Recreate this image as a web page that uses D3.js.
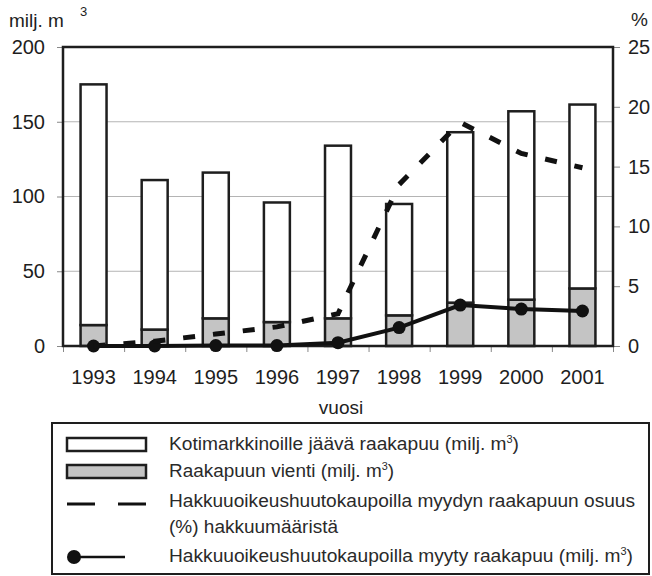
<!DOCTYPE html>
<html>
<head>
<meta charset="utf-8">
<script src="https://cdn.jsdelivr.net/npm/d3@7"></script>
<style>
  body { margin: 0; background: #fff; }
  svg { display: block; font-family: "Liberation Sans", Arial, sans-serif; }
</style>
</head>
<body>
<svg id="chart" width="652" height="576"></svg>
<script>
// data
const years = ["1993", "1994", "1995", "1996", "1997", "1998", "1999", "2000", "2001"];
const domestic = [161, 100, 97.5, 80, 115.5, 74.5, 114, 126, 123];     // milj. m3
const exported = [14, 11, 18.5, 16, 18.5, 20.5, 29, 31, 38.5];         // milj. m3
const soldShare = [0, 0.4, 1.0, 1.6, 2.7, 13.5, 18.7, 16.1, 14.9];     // %
const soldVolume = [0, 0, 0.3, 0.3, 2.2, 12.3, 27.4, 24.7, 23.4];      // milj. m3
const leftTicks = [0, 50, 100, 150, 200];
const rightTicks = [0, 5, 10, 15, 20, 25];
const legendLabels = [
    ["Kotimarkkinoille jäävä raakapuu (milj. m", "3", ")"],
    ["Raakapuun vienti (milj. m", "3", ")"],
    ["Hakkuuoikeushuutokaupoilla myydyn raakapuun osuus"],
    ["(%) hakkuumääristä"],
    ["Hakkuuoikeushuutokaupoilla myyty raakapuu (milj. m", "3", ")"]
];

const ink = "#1e1e1e";
const grey = "#c4c4c4";

const plot = { left: 63, right: 613, top: 47, bottom: 346 };

const svg = d3.select("#chart");

const x = d3.scaleBand()
    .domain(years)
    .range([plot.left, plot.right])
    .paddingInner(0.575)
    .paddingOuter(0.2875);

const xEdge = d3.scaleLinear().domain([0, years.length]).range([plot.left, plot.right]);

const y = d3.scaleLinear().domain([0, 200]).range([plot.bottom, plot.top]);
const yPct = d3.scaleLinear().domain([0, 25]).range([plot.bottom, plot.top]);

// gridlines
svg.append("g")
    .selectAll("line")
    .data(leftTicks.filter(d => d > 0 && d < 200))
    .enter()
    .append("line")
    .attr("x1", plot.left)
    .attr("x2", plot.right)
    .attr("y1", d => y(d))
    .attr("y2", d => y(d))
    .attr("stroke", "#b4b4b4")
    .attr("stroke-width", 1);

// axes
const leftAxis = svg.append("g")
    .attr("transform", `translate(${plot.left},0)`)
    .call(d3.axisLeft(y).tickValues(leftTicks).tickSize(6).tickPadding(12));

const rightAxis = svg.append("g")
    .attr("transform", `translate(${plot.right},0)`)
    .call(d3.axisRight(yPct).tickValues(rightTicks).tickSize(7).tickPadding(8));

const edgeAxis = svg.append("g")
    .attr("transform", `translate(0,${plot.bottom})`)
    .call(d3.axisBottom(xEdge).ticks(years.length).tickSize(6).tickFormat(""));

const yearAxis = svg.append("g")
    .attr("transform", `translate(0,${plot.bottom})`)
    .call(d3.axisBottom(x).tickSize(0).tickPadding(24));

[leftAxis, rightAxis, edgeAxis, yearAxis].forEach(a => {
    a.select(".domain").remove();
    a.selectAll("line").attr("stroke", "#888").attr("stroke-width", 1);
    a.selectAll("text")
        .attr("fill", ink)
        .style("font-size", "20px");
});

// stacked bars: export at bottom, domestic on top
const stack = years.map((yr, i) => ({ year: yr, exp: exported[i], dom: domestic[i] }));

const bars = svg.append("g");

bars.selectAll("rect.exp")
    .data(stack)
    .enter()
    .append("rect")
    .attr("class", "exp")
    .attr("x", d => x(d.year))
    .attr("width", x.bandwidth())
    .attr("y", d => y(d.exp))
    .attr("height", d => y(0) - y(d.exp))
    .attr("fill", grey)
    .attr("stroke", ink)
    .attr("stroke-width", 2.5);

bars.selectAll("rect.dom")
    .data(stack)
    .enter()
    .append("rect")
    .attr("class", "dom")
    .attr("x", d => x(d.year))
    .attr("width", x.bandwidth())
    .attr("y", d => y(d.exp + d.dom))
    .attr("height", d => y(d.exp) - y(d.exp + d.dom))
    .attr("fill", "#fff")
    .attr("stroke", ink)
    .attr("stroke-width", 2.5);

// plot frame
svg.append("rect")
    .attr("x", plot.left)
    .attr("y", plot.top)
    .attr("width", plot.right - plot.left)
    .attr("height", plot.bottom - plot.top)
    .attr("fill", "none")
    .attr("stroke", ink)
    .attr("stroke-width", 2.5);

const cx = yr => x(yr) + x.bandwidth() / 2;

// volume line with dots (left axis)
svg.append("path")
    .datum(soldVolume)
    .attr("d", d3.line().x((d, i) => cx(years[i])).y(d => y(d)))
    .attr("fill", "none")
    .attr("stroke", "#111")
    .attr("stroke-width", 4);

svg.append("g")
    .selectAll("circle")
    .data(soldVolume)
    .enter()
    .append("circle")
    .attr("cx", (d, i) => cx(years[i]))
    .attr("cy", d => y(d))
    .attr("r", 6.5)
    .attr("fill", "#111");

// share line, dashed (right axis)
svg.append("path")
    .datum(soldShare)
    .attr("d", d3.line().x((d, i) => cx(years[i])).y(d => yPct(d)))
    .attr("fill", "none")
    .attr("stroke", "#111")
    .attr("stroke-width", 5)
    .attr("stroke-dasharray", "12,18");

// axis titles
const unitL = svg.append("text")
    .attr("x", 9)
    .attr("y", 27)
    .attr("fill", ink)
    .style("font-size", "19px")
    .text("milj. m");
svg.append("text")
    .attr("x", 80)
    .attr("y", 16)
    .attr("fill", ink)
    .style("font-size", "13px")
    .text("3");

svg.append("text")
    .attr("x", 631)
    .attr("y", 26)
    .attr("fill", ink)
    .style("font-size", "19px")
    .text("%");

svg.append("text")
    .attr("x", 341)
    .attr("y", 414)
    .attr("text-anchor", "middle")
    .attr("fill", ink)
    .style("font-size", "19px")
    .text("vuosi");

/*
| Legend
*/

const legend = svg.append("g");

legend.append("rect")
    .attr("x", 52)
    .attr("y", 423)
    .attr("width", 597)
    .attr("height", 151)
    .attr("fill", "#fff")
    .attr("stroke", ink)
    .attr("stroke-width", 2);

legend.append("rect")
    .attr("x", 67).attr("y", 438)
    .attr("width", 79).attr("height", 13)
    .attr("fill", "#fff").attr("stroke", ink).attr("stroke-width", 2.5);

legend.append("rect")
    .attr("x", 67).attr("y", 465)
    .attr("width", 79).attr("height", 13)
    .attr("fill", grey).attr("stroke", ink).attr("stroke-width", 2.5);

legend.append("line")
    .attr("x1", 67).attr("x2", 146)
    .attr("y1", 504).attr("y2", 504)
    .attr("stroke", "#111").attr("stroke-width", 3)
    .attr("stroke-dasharray", "28,23");

legend.append("line")
    .attr("x1", 73).attr("x2", 125)
    .attr("y1", 557).attr("y2", 557)
    .attr("stroke", "#111").attr("stroke-width", 2.5);
legend.append("circle")
    .attr("cx", 74).attr("cy", 557).attr("r", 7)
    .attr("fill", "#111");

const rowBase = [450, 477, 507, 533, 562];
const rowWidth = [350, 225, 466, 169, 464];

legendLabels.forEach((parts, i) => {
    const t = legend.append("text")
        .attr("x", 169)
        .attr("y", rowBase[i])
        .attr("fill", "#2a2a2a")
        .attr("textLength", rowWidth[i])
        .attr("lengthAdjust", "spacingAndGlyphs")
        .style("font-size", "17.5px");
    t.append("tspan").text(parts[0]);
    if (parts.length > 1) {
        t.append("tspan").attr("dy", -7).style("font-size", "10px").text(parts[1]);
        t.append("tspan").attr("dy", 7).text(parts[2]);
    }
});
</script>
</body>
</html>
